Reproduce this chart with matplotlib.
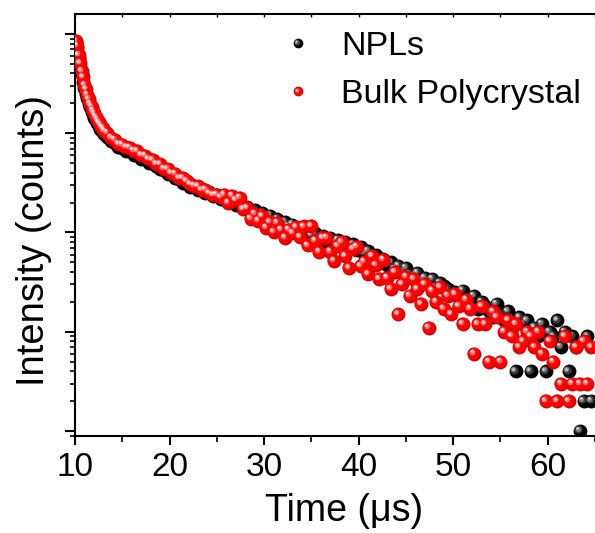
import matplotlib
matplotlib.use('Agg')
import matplotlib.pyplot as plt
from matplotlib.ticker import LogLocator, MultipleLocator, NullFormatter
from matplotlib.transforms import offset_copy
from matplotlib.legend_handler import HandlerBase
from matplotlib.lines import Line2D

plt.rcParams['font.family'] = ['Liberation Sans', 'DejaVu Sans']

# decay curves (time in us, counts per bin)
time_us = [
    10.1, 10.25, 10.4, 10.55, 10.7, 10.85, 11.0, 11.15, 11.3, 11.45, 11.6,
    11.75, 11.9, 12.05, 12.2, 12.35, 12.5, 12.65, 12.8, 12.95, 13.1,
    13.4, 13.8, 14.2, 14.6, 15.0, 15.4, 15.8, 16.2, 16.6, 17.0,
    17.4, 17.8, 18.2, 18.6, 19.0, 19.4, 19.8, 20.2, 20.6, 21.0,
    21.4, 21.8, 22.2, 22.6, 23.0, 23.4, 23.8, 24.2, 24.6, 25.0,
    25.4, 25.8, 26.2, 26.6, 27.0, 27.4, 27.8, 28.2, 28.6, 29.0,
    29.4, 29.8, 30.2, 30.6, 31.0, 31.4, 31.8, 32.2, 32.6, 33.0,
    33.4, 33.8, 34.2, 34.6, 35.0, 35.4, 35.8, 36.2, 36.6, 37.0,
    37.4, 37.8, 38.2, 38.6, 39.0, 39.4, 39.8, 40.2, 40.6, 41.0,
    41.4, 41.8, 42.2, 42.6, 43.0, 43.4, 43.8, 44.2, 44.6, 45.0,
    45.4, 45.8, 46.2, 46.6, 47.0, 47.4, 47.8, 48.2, 48.6, 49.0,
    49.4, 49.8, 50.2, 50.6, 51.0, 51.4, 51.8, 52.2, 52.6, 53.0,
    53.4, 53.8, 54.2, 54.6, 55.0, 55.4, 55.8, 56.2, 56.6, 57.0,
    57.4, 57.8, 58.2, 58.6, 59.0, 59.4, 59.8, 60.2, 60.6, 61.0,
    61.4, 61.8, 62.2, 62.6, 63.0, 63.4, 63.8, 64.2, 64.6,
]

npl_counts = [
    8320, 7210, 5790, 4650, 3910, 3290, 2840, 2500, 2250, 1990, 1830,
    1650, 1560, 1440, 1355, 1255, 1195, 1115, 1075, 1020, 980,
    920, 842, 793, 735, 716, 668, 655, 609, 597, 551,
    546, 505, 498, 470, 433, 430, 391, 387, 352, 349,
    318, 315, 289, 291, 268, 272, 250, 254, 233, 237,
    218, 222, 203, 207, 189, 193, 176, 181, 165, 169,
    152, 158, 143, 148, 133, 137, 124, 128, 115, 120,
    107, 112, 100, 106, 93, 98, 87, 92, 83, 88,
    79, 84, 76, 81, 72, 76, 67, 71, 62, 65,
    56, 59, 51, 54, 47, 50, 43, 46, 40, 44,
    38, 36, 39, 33, 35, 31, 34, 28, 31, 29,
    27, 24, 25, 22, 26, 21, 20, 23, 17, 20,
    18, 16, 14, 19, 15, 13, 16, 11, 4, 14,
    12, 13, 4, 11, 9, 12, 4, 10, 9, 13,
    7, 10, 4, 9, 7, 1, 2, 9, 2,
]

bulk_counts = [
    8510, 7640, 6120, 5050, 4230, 3660, 3070, 2770, 2440, 2200, 1980,
    1850, 1690, 1600, 1470, 1390, 1290, 1240, 1165, 1130, 1065,
    1012, 905, 860, 781, 770, 722, 715, 668, 662, 604,
    596, 548, 538, 490, 486, 441, 433, 398, 392, 351,
    355, 331, 305, 296, 292, 268, 270, 249, 238, 241,
    226, 240, 200, 234, 213, 225, 172, 176, 138, 155,
    131, 146, 112, 127, 101, 126, 107, 89, 107, 99,
    113, 90, 115, 74, 116, 83, 64, 88, 89, 64,
    52, 73, 80, 58, 44, 68, 72, 46, 51, 38,
    58, 47, 34, 53, 35, 27, 40, 15, 30, 36,
    23, 34, 27, 19, 30, 11, 26, 20, 28, 17,
    23, 15, 24, 18, 12, 21, 17, 6, 12, 18,
    12, 5, 16, 14, 5, 10, 13, 9, 12, 7,
    8, 10, 9, 7, 10, 6, 2, 8, 5, 2,
    3, 9, 2, 3, 7, 3, 8, 3, 7,
]

labels = ['NPLs', 'Bulk Polycrystal']

# shaded "ball" markers: (colour, size fraction, highlight shift fraction)
BLACK_BALL = [((0, 0, 0), 1.0, 0.0), ((0.22, 0.22, 0.22), 0.6, 0.12),
              ((0.5, 0.5, 0.5), 0.38, 0.16), ((0.85, 0.85, 0.85), 0.18, 0.19)]
RED_BALL = [((0.85, 0, 0), 1.0, 0.0), ((1, 0, 0), 0.86, 0.05),
            ((1, 0.38, 0.38), 0.42, 0.14), ((1, 0.72, 0.72), 0.27, 0.17),
            ((1, 0.96, 0.96), 0.13, 0.19)]


def draw_balls(ax, x, y, layers, size, z):
    for i, (color, frac, shift) in enumerate(layers):
        tr = offset_copy(ax.transData, fig=ax.figure, x=-shift * size,
                         y=shift * size, units='points')
        ax.plot(x, y, linestyle='none', marker='o', ms=size * frac,
                mfc=color, mec='none', transform=tr, zorder=z + i * 0.01)


class BallHandler(HandlerBase):
    def __init__(self, layers, size):
        super().__init__()
        self.layers = layers
        self.size = size

    def create_artists(self, legend, orig_handle, xdescent, ydescent,
                       width, height, fontsize, trans):
        cx = 0.5 * width - xdescent
        cy = 0.5 * height - ydescent
        arts = []
        for color, frac, shift in self.layers:
            d = shift * self.size
            a = Line2D([cx - d], [cy + d], linestyle='none', marker='o',
                       ms=self.size * frac, mfc=color, mec='none')
            a.set_transform(trans)
            arts.append(a)
        return arts


fig = plt.figure(figsize=(5.95, 5.33), dpi=100)
ax = fig.add_axes([75 / 595, 1 - 436 / 533, 520 / 595, 422 / 533])

draw_balls(ax, time_us, npl_counts, BLACK_BALL, 10.0, 2)
draw_balls(ax, time_us, bulk_counts, RED_BALL, 10.0, 3)

ax.set_yscale('log')
ax.set_xlim(10, 65)
ax.set_ylim(0.89, 15900)

ax.xaxis.set_major_locator(MultipleLocator(10))
ax.xaxis.set_minor_locator(MultipleLocator(5))
ax.yaxis.set_major_locator(LogLocator(base=10, numticks=10))
ax.yaxis.set_minor_locator(LogLocator(base=10, subs=range(2, 10), numticks=50))
ax.yaxis.set_major_formatter(NullFormatter())
ax.yaxis.set_minor_formatter(NullFormatter())

ax.tick_params(axis='x', which='major', direction='out', length=6.5, width=1.5,
               labelsize=24, pad=5, top=False)
ax.tick_params(axis='x', which='minor', direction='out', length=4, width=1.2, top=False)
ax.tick_params(axis='y', which='major', direction='out', length=7, width=1.5, right=False)
ax.tick_params(axis='y', which='minor', direction='out', length=3.5, width=1.2, right=False)

for side in ['left', 'bottom', 'top']:
    ax.spines[side].set_linewidth(1.5)
ax.spines['right'].set_visible(False)

# small inward ticks along the top frame
top = ax.secondary_xaxis('top')
top.xaxis.set_major_locator(MultipleLocator(5))
top.tick_params(direction='in', length=2.5, width=1.0, labeltop=False)
top.spines['top'].set_visible(False)

ax.set_xlabel('Time (μs)', fontsize=27)
ax.set_ylabel('Intensity (counts)', fontsize=27.5)
ax.xaxis.set_label_coords(0.517, -0.134)
ax.xaxis.label.set_va('top')
ax.yaxis.set_label_coords(-0.045, 0.464)

h1 = Line2D([], [])
h2 = Line2D([], [])
ax.legend([h1, h2], labels, loc='upper left',
          bbox_to_anchor=(282 / 595, 1 - 31 / 533), bbox_transform=fig.transFigure,
          handler_map={h1: BallHandler(BLACK_BALL, 7.0), h2: BallHandler(RED_BALL, 7.0)},
          frameon=False, fontsize=24.5, handlelength=0.94, handletextpad=0.8,
          labelspacing=0.51, borderpad=0, borderaxespad=0)

fig.savefig('out.png', dpi=100)
